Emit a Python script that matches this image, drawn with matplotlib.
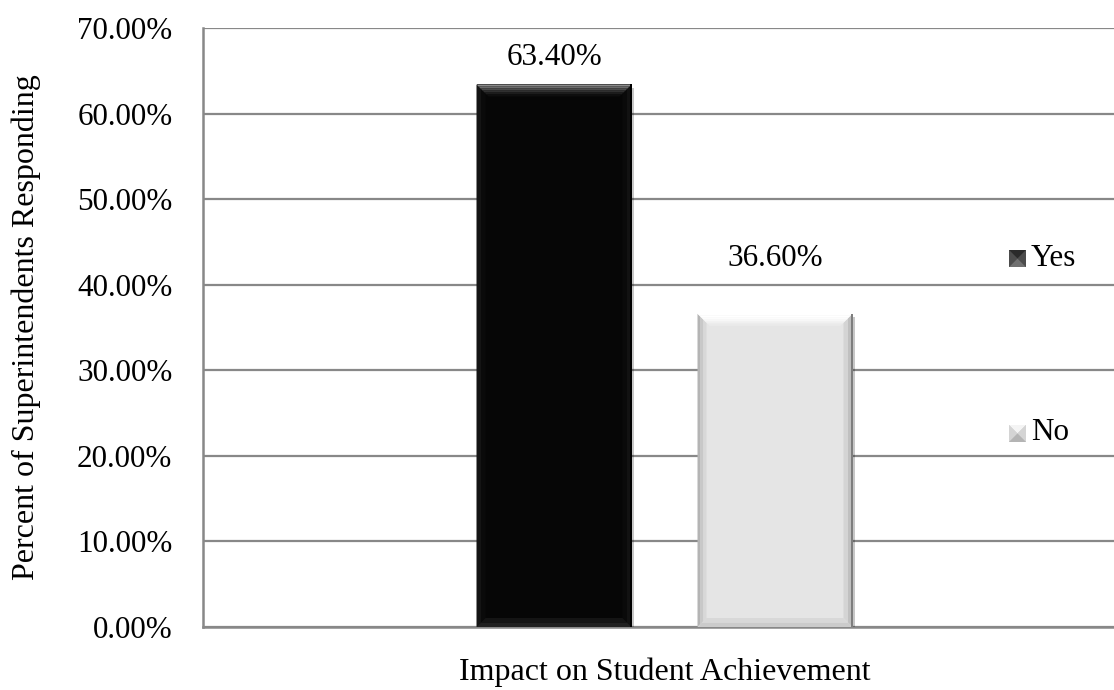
import matplotlib
matplotlib.use("Agg")
import matplotlib.pyplot as plt
from matplotlib.patches import Polygon, Rectangle
from matplotlib.ticker import FuncFormatter
import matplotlib.patheffects as pe

# Survey results
categories = ["Yes", "No"]
values = [63.40, 36.60]
value_labels = ["63.40%", "36.60%"]
y_ticks = [0, 10, 20, 30, 40, 50, 60, 70]
x_title = "Impact on Student Achievement"
y_title = "Percent of Superintendents Responding"

plt.rcParams["font.family"] = ["Liberation Serif", "DejaVu Serif"]
FS = 22.4
FS_TITLE = 23

W, H = 1114, 690
fig = plt.figure(figsize=(W / 100, H / 100), dpi=100)

# plot area in pixels (left, top, right, bottom); right edge runs past the figure
L, T, R, B = 203, 28, 1126, 627
ax = fig.add_axes([L / W, 1 - B / H, (R - L) / W, (B - T) / H])
ax.set_xlim(0, 1)
ax.set_ylim(0, 70)

grid_c = "#888888"
ax.set_yticks(y_ticks)
ax.yaxis.set_major_formatter(FuncFormatter(lambda v, p: f"{v:.2f}%"))
ax.grid(axis="y", color=grid_c, lw=1.6)
ax.set_axisbelow(True)
ax.set_xticks([])
ax.tick_params(axis="y", length=0, pad=22, labelsize=FS)
for s in ["top", "right"]:
    ax.spines[s].set_visible(False)
for s in ["left", "bottom"]:
    ax.spines[s].set_color(grid_c)
    ax.spines[s].set_linewidth(1.8)

px_x = (R - L) / 1.0
px_y = (B - T) / 70.0

bar_w = 155 / px_x
gap = 66 / px_x
mid = 0.5
centers = [mid - (bar_w + gap) / 2 + i * (bar_w + gap) for i in range(len(values))]

face = ["#060606", "#e5e5e5"]
styles = [
    dict(top=["#8c8c8c", "#6a6a6a", "#4a4a4a", "#303030", "#1c1c1c", "#0e0e0e"],
         left=["#141414", "#0a0a0a"], right=["#121212", "#0a0a0a"],
         bottom=["#202020", "#141414"], edge="#000000"),
    dict(top=["#ffffff", "#ffffff", "#fcfcfc", "#f7f7f7", "#f0f0f0", "#eaeaea"],
         left=["#b4b4b4", "#c8c8c8", "#d8d8d8"], right=["#c0c0c0", "#d4d4d4"],
         bottom=["#cbcbcb", "#d8d8d8"], edge="#7c7c7c"),
]

bars = ax.bar(centers, values, width=bar_w, color=face, zorder=3, linewidth=0)
for b in bars:
    b.set_path_effects([pe.SimplePatchShadow(offset=(1.5, -2.5), shadow_rgbFace="#000000", alpha=0.22),
                        pe.Normal()])


def band(x0, x1, y0, y1, bx, by, side, f0, f1):
    if side == "top":
        return [(x0 + bx * f0, y1 - by * f0), (x1 - bx * f0, y1 - by * f0),
                (x1 - bx * f1, y1 - by * f1), (x0 + bx * f1, y1 - by * f1)]
    if side == "bottom":
        return [(x0 + bx * f0, y0 + by * f0), (x1 - bx * f0, y0 + by * f0),
                (x1 - bx * f1, y0 + by * f1), (x0 + bx * f1, y0 + by * f1)]
    if side == "left":
        return [(x0 + bx * f0, y1 - by * f0), (x0 + bx * f1, y1 - by * f1),
                (x0 + bx * f1, y0 + by * f1), (x0 + bx * f0, y0 + by * f0)]
    return [(x1 - bx * f0, y1 - by * f0), (x1 - bx * f1, y1 - by * f1),
            (x1 - bx * f1, y0 + by * f1), (x1 - bx * f0, y0 + by * f0)]


bev = {"top": 12, "left": 9, "right": 9, "bottom": 9}
for c, v, st in zip(centers, values, styles):
    x0, x1 = c - bar_w / 2, c + bar_w / 2
    y0, y1 = 0, v
    for side in ["left", "right", "bottom", "top"]:
        cols = st[side]
        n = len(cols)
        bx = bev[side] / px_x
        by = bev[side] / px_y
        for k, col in enumerate(cols):
            poly = band(x0, x1, y0, y1, bx, by, side, k / n, (k + 1) / n)
            ax.add_patch(Polygon(poly, closed=True, fc=col, ec="none", zorder=4))
    ax.plot([x1 - 1.0 / px_x] * 2, [y0, y1], color=st["edge"], lw=1.4, zorder=5,
            solid_capstyle="butt")

# label offsets above each bar top, in pixels
label_offsets = [27, 55]
for c, v, lab, off in zip(centers, values, value_labels, label_offsets):
    ax.text(c, v + off / px_y, lab, ha="center", va="center", fontsize=FS, zorder=6)

# overlay in pixel coordinates for titles and legend
ov = fig.add_axes([0, 0, 1, 1], facecolor="none")
ov.set_xlim(0, W)
ov.set_ylim(H, 0)
ov.axis("off")

ov.text((L + R) / 2, 672, x_title, ha="center", va="center", fontsize=FS_TITLE)
ov.text(26, 327, y_title, ha="center", va="center", rotation=90, fontsize=FS_TITLE)

leg_y = [258, 433]
leg_cols = [("#2a2a2a", "#4c4c4c", "#707070", "#3a3a3a"),
            ("#f4f4f4", "#d4d4d4", "#b4b4b4", "#cccccc")]
for cat, yy, (top, side, bot, midc) in zip(categories, leg_y, leg_cols):
    x0, y0, s = 1009, yy - 8, 17
    ov.add_patch(Rectangle((x0, y0), s, s, fc=midc, ec="none"))
    cx, cy = x0 + s / 2, y0 + s / 2
    ov.add_patch(Polygon([(x0, y0), (x0 + s, y0), (cx, cy)], fc=top, ec="none"))
    ov.add_patch(Polygon([(x0, y0), (x0, y0 + s), (cx, cy)], fc=side, ec="none"))
    ov.add_patch(Polygon([(x0 + s, y0), (x0 + s, y0 + s), (cx, cy)], fc=side, ec="none"))
    ov.add_patch(Polygon([(x0, y0 + s), (x0 + s, y0 + s), (cx, cy)], fc=bot, ec="none"))
    ov.text(1031, yy, cat, ha="left", va="center", fontsize=FS)

fig.savefig("out.png", dpi=100)
